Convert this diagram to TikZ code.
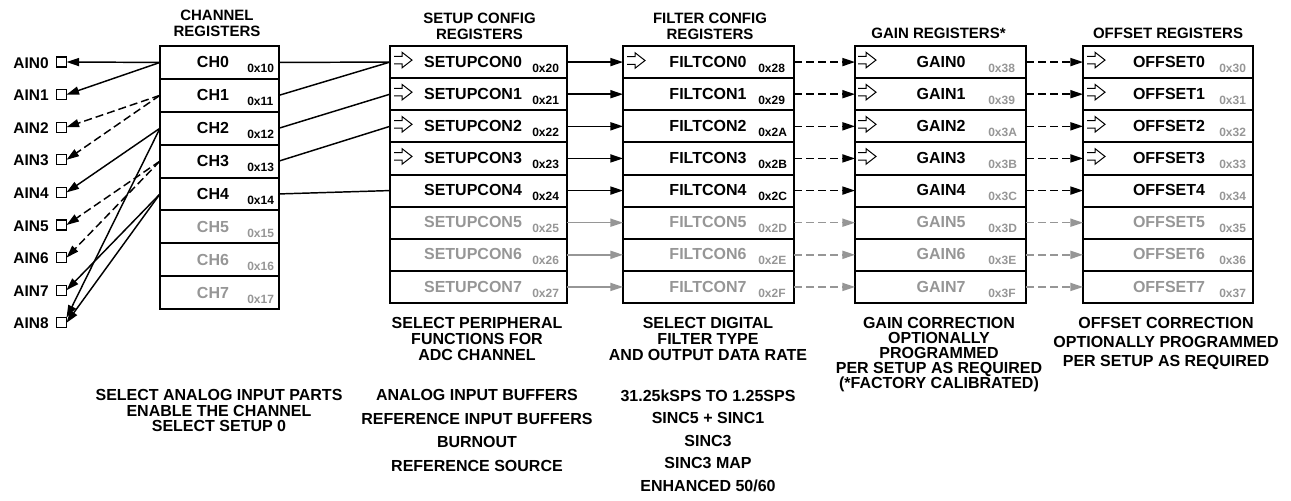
\documentclass[tikz,border=0pt]{standalone}
\usepackage{fontspec}
\setmainfont{Liberation Sans}
\usetikzlibrary{arrows.meta}
\definecolor{regray}{RGB}{150,150,150}
\newcommand\hollowarr[2]{\draw[line width=0.75pt,line join=miter] (#1,#2-3.8) -- ++(8,0) -- ++(0,-4) -- ++(10,7.8) -- ++(-10,7.8) -- ++(0,-4) -- ++(-8,0);}
\tikzset{
  reg/.style={draw, line width=1.5pt, inner sep=0pt, outer sep=0pt},
  nm/.style={font=\fontsize{12}{14}\selectfont\bfseries, inner sep=0pt, anchor=base},
  hx/.style={font=\fontsize{9}{10}\selectfont\bfseries, inner sep=0pt, anchor=base west},
  hdr/.style={font=\fontsize{11.25}{12}\selectfont\bfseries, align=center, inner sep=0pt, anchor=north},
  note/.style={font=\fontsize{12}{#1}\selectfont\bfseries, align=center, inner sep=0pt, anchor=north},
  ainbox/.style={draw, line width=0.9pt, minimum size=7.5pt, inner sep=0pt, outer sep=0pt},
  ainlbl/.style={font=\fontsize{11.6}{13}\selectfont\bfseries, inner sep=0pt, anchor=base east},
  conn/.style={line width=1.1pt},
  arr/.style={conn, -{Triangle[length=9.4pt,width=6pt]}},
  darr/.style={arr, dash pattern=on 6pt off 3pt},
}
\begin{document}
\begin{tikzpicture}[x=0.75pt,y=-0.75pt]
\useasboundingbox (0,0) rectangle (1291,500);

% headers
\node[hdr] at (217,10) {CHANNEL\\REGISTERS};
\node[hdr] at (479.5,12.5) {SETUP CONFIG\\REGISTERS};
\node[hdr] at (710,12.5) {FILTER CONFIG\\REGISTERS};
\node[hdr] at (938.5,27.5) {GAIN REGISTERS*};
\node[hdr] at (1168,27.5) {OFFSET REGISTERS};

% AIN pins
\foreach \i in {0,...,8}{
  \pgfmathsetmacro\ya{62+\i*32.6}
  \node[ainbox] (ain\i) at (61.5,\ya) {};
  \node[ainlbl] at (49,\ya+6) {AIN\i};
}

% channel registers
\foreach \i in {0,...,7}{
  \pgfmathsetmacro\yc{46+(\i+0.5)*32.875}
  \pgfmathsetmacro\yb{46+(\i+1)*32.875}
  \ifnum\i<5 \def\tc{black}\else\def\tc{regray}\fi
  \node[reg, minimum width=89.25pt, minimum height=24.66pt] (ch\i) at (219.5,\yc) {};
  \node[nm, text=\tc] at (213,\yb-11) {CH\i};
  \node[hx, text=\tc] at (247,\yb-6) {0x1\i};
}

% setup config registers
\foreach \i in {0,...,7}{
  \pgfmathsetmacro\yc{46+(\i+0.5)*32.125}
  \pgfmathsetmacro\yb{46+(\i+1)*32.125}
  \ifnum\i<5 \def\tc{black}\else\def\tc{regray}\fi
  \node[reg, minimum width=132.75pt, minimum height=24.09pt] (su\i) at (478.5,\yc) {};
  \node[nm, text=\tc] at (473,\yb-11) {SETUPCON\i};
  \node[hx, text=\tc] at (532,\yb-6) {0x2\i};
}

% filter config registers
\foreach \i/\h in {0/8,1/9,2/A,3/B,4/C,5/D,6/E,7/F}{
  \pgfmathsetmacro\yc{46+(\i+0.5)*32.125}
  \pgfmathsetmacro\yb{46+(\i+1)*32.125}
  \ifnum\i<5 \def\tc{black}\else\def\tc{regray}\fi
  \node[reg, minimum width=128.25pt, minimum height=24.09pt] (fi\i) at (708.5,\yc) {};
  \node[nm, text=\tc] at (708,\yb-11) {FILTCON\i};
  \node[hx, text=\tc] at (758,\yb-6) {0x2\h};
}

% gain registers
\foreach \i/\h in {0/8,1/9,2/A,3/B,4/C,5/D,6/E,7/F}{
  \pgfmathsetmacro\yc{46+(\i+0.5)*32.125}
  \pgfmathsetmacro\yb{46+(\i+1)*32.125}
  \ifnum\i<5 \def\tc{black}\else\def\tc{regray}\fi
  \node[reg, minimum width=128.25pt, minimum height=24.09pt] (ga\i) at (940.5,\yc) {};
  \node[nm, text=\tc] at (941,\yb-11) {GAIN\i};
  \node[hx, text=regray] at (988,\yb-6) {0x3\h};
}

% offset registers
\foreach \i in {0,...,7}{
  \pgfmathsetmacro\yc{46+(\i+0.5)*32.125}
  \pgfmathsetmacro\yb{46+(\i+1)*32.125}
  \ifnum\i<5 \def\tc{black}\else\def\tc{regray}\fi
  \node[reg, minimum width=127.5pt, minimum height=24.09pt] (of\i) at (1168,\yc) {};
  \node[nm, text=\tc] at (1169,\yb-11) {OFFSET\i};
  \node[hx, text=regray] at (1219,\yb-6) {0x3\i};
}

% hollow pointer symbols
\foreach \i in {0,...,3}{
  \pgfmathsetmacro\yc{46+(\i+0.5)*32.125}
  \hollowarr{394}{\yc-2}
  \hollowarr{858}{\yc-2}
  \hollowarr{1087}{\yc-2}
}
\hollowarr{627}{60.5}

% channel -> AIN
\draw[arr] (ch0.west) -- (ain0.east);
\draw[arr] (ch0.west) -- (ain1.east);
\draw[darr] (ch1.west) -- (ain2.east);
\draw[darr] (ch1.west) -- (ain3.east);
\draw[arr] (ch2.west) -- (ain4.east);
\draw[arr] (ch2.west) -- (ain8.north east);
\draw[darr] (ch3.west) -- (ain5.east);
\draw[darr] (ch3.west) -- (ain6.east);
\draw[arr] (ch4.west) -- (ain7.east);
\draw[arr] (ch4.west) -- (ain8.east);

% channel -> setup
\draw[conn] (ch0.east) -- (su0.west);
\draw[conn] (ch1.east) -- (su0.west);
\draw[conn] (ch2.east) -- (su1.west);
\draw[conn] (ch3.east) -- (su2.west);
\draw[conn] (ch4.east) -- (su4.west);

% setup -> filter -> gain -> offset
\foreach \i in {0,...,7}{
  \ifnum\i<5 \def\tc{black}\else\def\tc{regray}\fi
  \draw[arr, color=\tc] (su\i.east) -- (fi\i.west);
  \draw[darr, color=\tc] (fi\i.east) -- (ga\i.west);
  \draw[darr, color=\tc] (ga\i.east) -- (of\i.west);
}

% notes
\node[note=12pt] at (477,317.5) {SELECT PERIPHERAL\\FUNCTIONS FOR\\ADC CHANNEL};
\node[note=12pt] at (708,317.5) {SELECT DIGITAL\\FILTER TYPE\\AND OUTPUT DATA RATE};
\node[note=11.25pt] at (939,317.5) {GAIN CORRECTION\\OPTIONALLY\\PROGRAMMED\\PER SETUP AS REQUIRED\\(*FACTORY CALIBRATED)};
\node[note=13.9pt] at (1166,317.5) {OFFSET CORRECTION\\OPTIONALLY PROGRAMMED\\PER SETUP AS REQUIRED};
\node[note=11.6pt] at (219,389.5) {SELECT ANALOG INPUT PARTS\\ENABLE THE CHANNEL\\SELECT SETUP 0};
\node[note=17.6pt] at (477,389.5) {ANALOG INPUT BUFFERS\\REFERENCE INPUT BUFFERS\\BURNOUT\\REFERENCE SOURCE};
\node[note=16.9pt] at (708,389.5) {31.25kSPS TO 1.25SPS\\SINC5 + SINC1\\SINC3\\SINC3 MAP\\ENHANCED 50/60};
\end{tikzpicture}
\end{document}
